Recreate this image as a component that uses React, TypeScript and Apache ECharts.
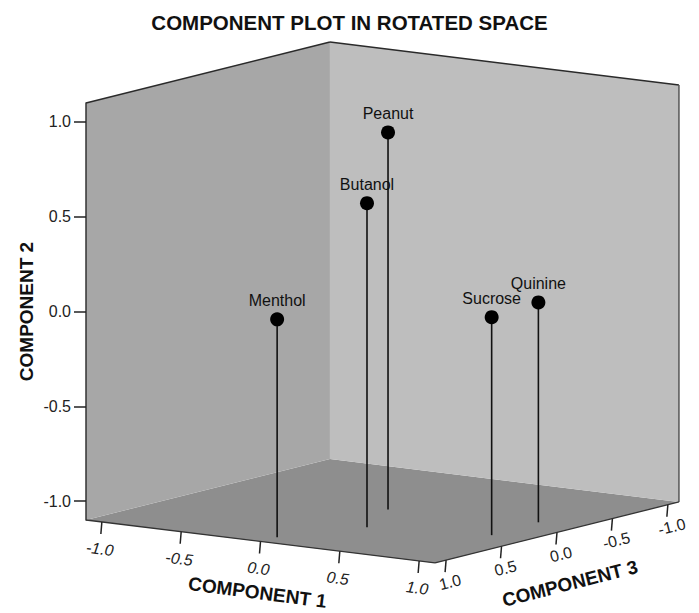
import React, { useEffect, useRef } from 'react';
import * as echarts from 'echarts';

// ---- data ----
const pointNames = ['Menthol', 'Butanol', 'Peanut', 'Sucrose', 'Quinine'];
const component1 = [0.0, 0.21, 0.0, 0.87, 0.85];
const component2 = [0.05, 0.61, 0.89, 0.05, 0.06];
const component3 = [0.95, 0.44, -0.05, 0.26, -0.19];
const tickValues = [-1.0, -0.5, 0.0, 0.5, 1.0];
const axisNames = ['COMPONENT 1', 'COMPONENT 2', 'COMPONENT 3'];
const titleText = 'COMPONENT PLOT IN ROTATED SPACE';

// ---- projection / style constants ----
const R = 1.1; // half extent of every axis
const C1_SLOPE = 0.123; // vertical drop per horizontal px along Component 1
const C3_DX = -0.699; // Component 3 direction, relative to px per C1 unit
const C3_DY = 0.1747;
const FONT = '"Liberation Sans", Arial, sans-serif';

function makeProjector(api: any) {
  const ux = api.size([1, 0])[0];
  return (c1: number, c2: number, c3: number) => {
    const p = api.coord([c1, c2]);
    return [
      p[0] + (c3 - R) * C3_DX * ux,
      p[1] + (c1 + R) * C1_SLOPE * ux + (c3 - R) * C3_DY * ux,
    ];
  };
}

const fmt = (v: number) => v.toFixed(1);

function renderBox(params: any, api: any) {
  const P = makeProjector(api);
  const poly = (arr: number[][], fill: string) => ({
    type: 'polygon',
    shape: { points: arr.map((a) => P(a[0], a[1], a[2])) },
    style: { fill },
  });
  const seg = (a: number[], b: number[], stroke: string, lineWidth: number) => {
    const p = P(a[0], a[1], a[2]);
    const q = P(b[0], b[1], b[2]);
    return {
      type: 'line',
      shape: { x1: p[0], y1: p[1], x2: q[0], y2: q[1] },
      style: { stroke, lineWidth },
    };
  };
  const children: any[] = [];
  children.push(poly([[-R, -R, R], [-R, -R, -R], [R, -R, -R], [R, -R, R]], '#8e8e8e'));
  children.push(poly([[-R, -R, R], [-R, R, R], [-R, R, -R], [-R, -R, -R]], '#a7a7a7'));
  children.push(poly([[-R, -R, -R], [-R, R, -R], [R, R, -R], [R, -R, -R]], '#bebebe'));
  children.push(seg([-R, R, R], [-R, R, -R], '#2a2a2a', 1.5));
  children.push(seg([-R, R, -R], [R, R, -R], '#2a2a2a', 1.5));
  children.push(seg([R, -R, -R], [R, R, -R], '#555555', 1.5));
  children.push(seg([-R, -R, R], [R, -R, R], '#333333', 1.3));
  children.push(seg([R, -R, R], [R, -R, -R], '#333333', 1.3));

  // Component 1 axis (front-left floor edge)
  tickValues.forEach((t) => {
    const p = P(t, -R, R);
    children.push({
      type: 'line',
      shape: { x1: p[0], y1: p[1], x2: p[0] - 1, y2: p[1] + 12 },
      style: { stroke: '#222', lineWidth: 1.5 },
    });
    children.push({
      type: 'text',
      x: p[0] - 2,
      y: p[1] + 27,
      rotation: -0.123,
      style: {
        text: fmt(t), fontSize: 16, fontFamily: FONT, fontStyle: 'italic',
        fill: '#222', align: 'center', verticalAlign: 'middle',
      },
    });
  });
  const n1 = P(0, -R, R);
  children.push({
    type: 'text', x: n1[0] - 3, y: n1[1] + 51, rotation: -0.13,
    style: {
      text: axisNames[0], fontSize: 19, fontWeight: 'bold', fontFamily: FONT,
      fill: '#111', align: 'center', verticalAlign: 'middle',
    },
  });

  // Component 3 axis (front-right floor edge)
  tickValues.forEach((t) => {
    const p = P(R, -R, t);
    children.push({
      type: 'line',
      shape: { x1: p[0], y1: p[1], x2: p[0] - 1, y2: p[1] + 12 },
      style: { stroke: '#222', lineWidth: 1.5 },
    });
    children.push({
      type: 'text',
      x: p[0] + 4,
      y: p[1] + 22,
      rotation: 0.245,
      style: {
        text: fmt(t), fontSize: 16, fontFamily: FONT,
        fill: '#222', align: 'center', verticalAlign: 'middle',
      },
    });
  });
  const n3 = P(R, -R, 0);
  children.push({
    type: 'text', x: n3[0] + 13, y: n3[1] + 51, rotation: 0.25,
    style: {
      text: axisNames[2], fontSize: 19, fontWeight: 'bold', fontFamily: FONT,
      fill: '#111', align: 'center', verticalAlign: 'middle',
    },
  });
  return { type: 'group', children };
}

function renderPoint(params: any, api: any) {
  const P = makeProjector(api);
  const c1 = api.value(0);
  const c2 = api.value(1);
  const c3 = api.value(2);
  const top = P(c1, c2, c3);
  const foot = P(c1, -R, c3);
  return {
    type: 'group',
    children: [
      {
        type: 'line',
        shape: { x1: top[0], y1: top[1], x2: foot[0], y2: foot[1] },
        style: { stroke: '#111', lineWidth: 1.6 },
      },
      { type: 'circle', shape: { cx: top[0], cy: top[1], r: 7 }, style: { fill: '#000' } },
      {
        type: 'text', x: top[0], y: top[1] - 19,
        style: {
          text: pointNames[params.dataIndex], fontSize: 16, fontFamily: FONT,
          fill: '#111', align: 'center', verticalAlign: 'middle',
        },
      },
    ],
  };
}

export default function App() {
  const ref = useRef<HTMLDivElement>(null);
  useEffect(() => {
    if (!ref.current) return;
    const chart = echarts.init(ref.current, null, { renderer: 'svg' });
    const pointData = pointNames.map((_, i) => [component1[i], component2[i], component3[i]]);
    chart.setOption({
      animation: false,
      backgroundColor: '#ffffff',
      title: {
        text: titleText,
        left: 'center',
        top: 7,
        textStyle: { fontSize: 20.5, fontWeight: 'bold', color: '#111', fontFamily: FONT },
      },
      grid: { left: 86, top: 103, width: 349, height: 417, containLabel: false, outerBoundsMode: 'none' },
      xAxis: { type: 'value', min: -R, max: R, show: false },
      yAxis: {
        type: 'value',
        min: -R,
        max: R,
        z: 10,
        axisLine: { show: true, onZero: false, lineStyle: { color: '#333', width: 1.5 } },
        axisTick: { show: true, length: 12, customValues: tickValues, lineStyle: { color: '#222', width: 1.5 } },
        axisLabel: {
          customValues: tickValues, formatter: (v: number) => fmt(v),
          fontSize: 16, color: '#222', fontFamily: FONT, margin: 15,
        },
        splitLine: { show: false },
        name: axisNames[1],
        nameLocation: 'middle',
        nameGap: 50,
        nameTextStyle: { fontSize: 19, fontWeight: 'bold', color: '#111', fontFamily: FONT },
      },
      series: [
        { type: 'custom', coordinateSystem: 'cartesian2d', clip: false, z: 1, data: [[0, 0]], renderItem: renderBox, silent: true },
        { type: 'custom', coordinateSystem: 'cartesian2d', clip: false, z: 3, data: pointData, renderItem: renderPoint, silent: true },
      ],
    });
    return () => chart.dispose();
  }, []);
  return <div ref={ref} style={{ position: 'fixed', left: 0, top: 0, width: 699, height: 613 }} />;
}
